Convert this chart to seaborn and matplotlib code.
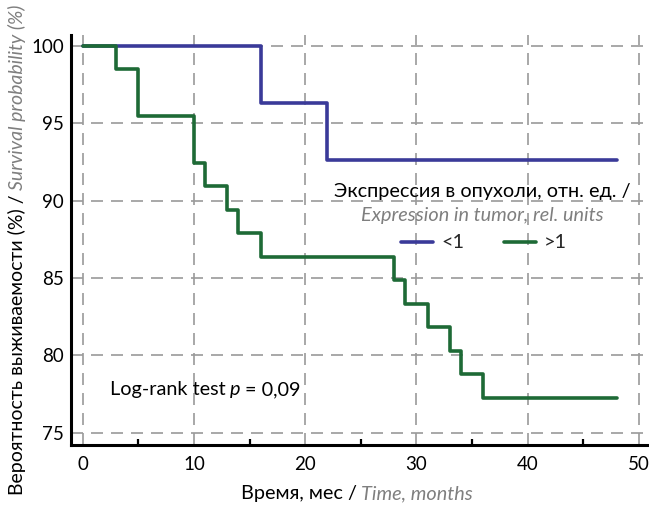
import numpy as np
import pandas as pd
import matplotlib
matplotlib.use("Agg")
import matplotlib.pyplot as plt
import seaborn as sns
from matplotlib.ticker import MultipleLocator
from matplotlib.transforms import IdentityTransform
from matplotlib.lines import Line2D

# ---- data ----
blue_t = [0, 16, 22, 48]
blue_s = [100, 96.3, 92.6, 92.6]
green_t = [0, 3, 5, 10, 11, 13, 14, 16, 28, 29, 31, 33, 34, 36, 48]
green_s = [100, 98.48, 95.45, 92.42, 90.91, 89.39, 87.88, 86.36, 84.85,
           83.33, 81.82, 80.30, 78.79, 77.27, 77.27]
group_labels = ["<1", ">1"]
x_ticks = [0, 10, 20, 30, 40, 50]
y_ticks = [75, 80, 85, 90, 95, 100]

BLUE = "#3a3a99"
GREEN = "#1e6a36"
GRAY = "#7f7f7f"
FS = 14.3

sns.set_theme(style="white")
plt.rcParams["font.family"] = ["Lato", "DejaVu Sans"]

W, H = 649, 505
fig = plt.figure(figsize=(W / 100, H / 100), dpi=100)
ax = fig.add_axes([71 / W, 1 - 445 / H, (W - 71) / W, (445 - 35) / H])

df = pd.DataFrame({
    "t": blue_t + green_t,
    "s": blue_s + green_s,
    "g": [group_labels[0]] * len(blue_t) + [group_labels[1]] * len(green_t),
})
sns.lineplot(data=df, x="t", y="s", hue="g", hue_order=group_labels,
             palette={group_labels[0]: BLUE, group_labels[1]: GREEN},
             estimator=None, sort=False, drawstyle="steps-post", lw=2.6,
             ax=ax, legend=False)

ax.set_xlim(-1.05, 50.9)
ax.set_ylim(74.2, 100.7)
ax.set_xticks(x_ticks)
ax.set_yticks(y_ticks)
ax.xaxis.set_minor_locator(MultipleLocator(5))
ax.set_xlabel("")
ax.set_ylabel("")

for s in ["top", "right"]:
    ax.spines[s].set_visible(False)
for s in ["left", "bottom"]:
    ax.spines[s].set_color("black")
    ax.spines[s].set_linewidth(2.2)

ax.tick_params(axis="both", which="major", direction="in", length=8, width=2.2,
               color="black", labelsize=13.5, labelcolor="black")
ax.tick_params(axis="x", which="major", pad=8)
ax.tick_params(axis="y", which="major", pad=5)
ax.tick_params(axis="x", which="minor", direction="in", length=4, width=1.6,
               color="black", bottom=True)
ax.grid(True, which="major", ls=(0, (7.2, 4.8)), color="#9a9a9a", lw=1.2)
ax.set_axisbelow(True)

fig.canvas.draw()
renderer = fig.canvas.get_renderer()


def mixed_text(parts, cx, cy, rotation=0, size=FS):
    """parts: list of (string, props); centered at display (cx, cy)."""
    texts = []
    lengths = []
    for s, props in parts:
        t = fig.text(0, 0, s, transform=IdentityTransform(), size=size,
                     rotation=rotation, ha="left" if rotation == 0 else "center",
                     va="center" if rotation == 0 else "bottom", **props)
        bb = t.get_window_extent(renderer)
        lengths.append(bb.width if rotation == 0 else bb.height)
        texts.append(t)
    gap = size * 0.3
    total = sum(lengths) + gap * (len(parts) - 1)
    pos = (cx if rotation == 0 else cy) - total / 2
    for t, L in zip(texts, lengths):
        if rotation == 0:
            t.set_position((pos, cy))
        else:
            t.set_position((cx, pos))
        pos += L + gap
    return texts


# axis labels
mixed_text([("Время, мес /", dict(color="black")),
            ("Time, months", dict(color=GRAY, style="italic"))],
           357, H - 494)
mixed_text([("Вероятность выживаемости (%) /", dict(color="black")),
            ("Survival probability (%)", dict(color=GRAY, style="italic"))],
           17, H - 250, rotation=90, size=14.0)

# legend title lines
fig.text(482, H - 192, "Экспрессия в опухоли, отн. ед. /", transform=IdentityTransform(),
         size=FS, ha="center", va="center", color="black")
fig.text(482, H - 215, "Expression in tumor, rel. units", transform=IdentityTransform(),
         size=FS, ha="center", va="center", color=GRAY, style="italic")

handles = [Line2D([], [], color=BLUE, lw=2.6), Line2D([], [], color=GREEN, lw=2.6)]
ax.legend(handles, group_labels, ncol=2, frameon=False, fontsize=FS,
          loc="center", bbox_to_anchor=(484, H - 243),
          bbox_transform=IdentityTransform(), handlelength=1.62,
          handletextpad=0.4, columnspacing=2.0, borderpad=0, borderaxespad=0)

# log-rank annotation
mixed_text([("Log-rank test", dict(color="black")),
            ("p", dict(color="black", style="italic")),
            ("= 0,09", dict(color="black"))],
           205, H - 390)

fig.savefig("out.png", dpi=100)
